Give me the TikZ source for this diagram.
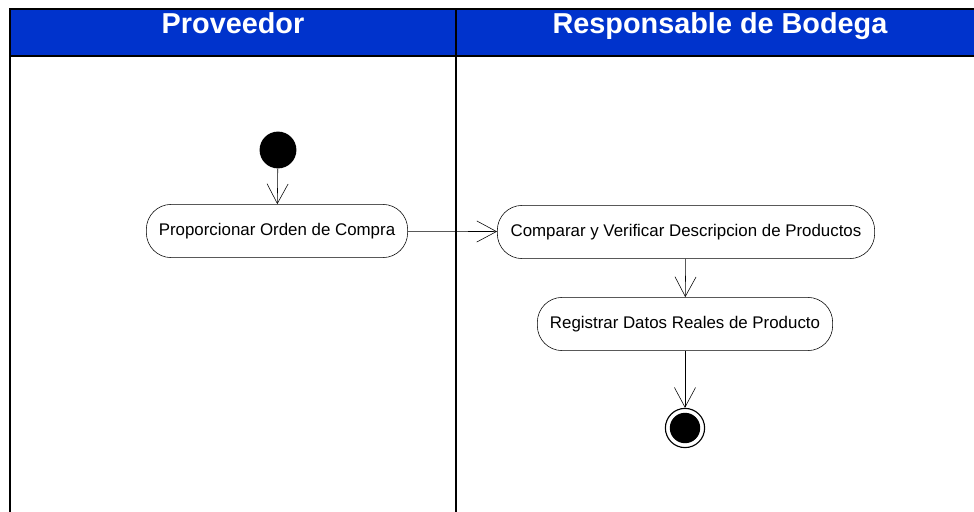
\documentclass[tikz,border=0pt]{standalone}
\usepackage{fontspec}
\setmainfont{Liberation Sans}
\usetikzlibrary{arrows.meta,%
	positioning}
\definecolor{laneblue}{RGB}{0,51,204}
\tikzset{
	accion/.style={draw, rounded corners=0.62cm, minimum height=1.33cm,
		inner sep=2pt, font=\fontsize{12}{14}\selectfont},
	flujo/.style={-{Straight Barb[length=14pt,width=15pt]}, thin},
	titulo/.style={text=white, anchor=base, font=\fontsize{20.5}{24}\selectfont\bfseries}
}
\begin{document}
\begin{tikzpicture}[x=0.025cm, y=-0.025cm]
			\useasboundingbox (0,0) rectangle (974,512);
			\fill[laneblue] (10,9) rectangle (974,56);
			\draw[line width=1.2pt] (974,9) -- (10,9) -- (10,512);
			\draw[line width=1.2pt] (10,56) -- (974,56);
			\draw[line width=1.2pt] (456,9) -- (456,512);
			\node[titulo] (P) at (233,34) {Proveedor};
			\node[titulo] (R) at (720,34) {Responsable de Bodega};
			\node[circle, fill=black, minimum size=0.92cm, inner sep=0pt] (inicio) at (278,150) {};
			\node[accion, minimum width=6.53cm] (A) at (277,231) {Proporcionar Orden de Compra};
			\node[accion, minimum width=9.43cm] (B) at (686,232) {Comparar y Verificar Descripcion de Productos};
			\node[accion, minimum width=7.38cm] (C) at (685,324) {Registrar Datos Reales de Producto};
			\node[circle, draw, thick, minimum size=0.98cm, inner sep=0pt] (fin) at (685,428) {};
			\node[circle, fill=black, minimum size=0.76cm, inner sep=0pt] at (fin) {};
			\draw[flujo] (inicio) -- (A);
			\draw[flujo] (A) -- (B);
			\draw[flujo] (B) -- (C);
			\draw[flujo] (C) -- (fin);
\end{tikzpicture}
\end{document}
